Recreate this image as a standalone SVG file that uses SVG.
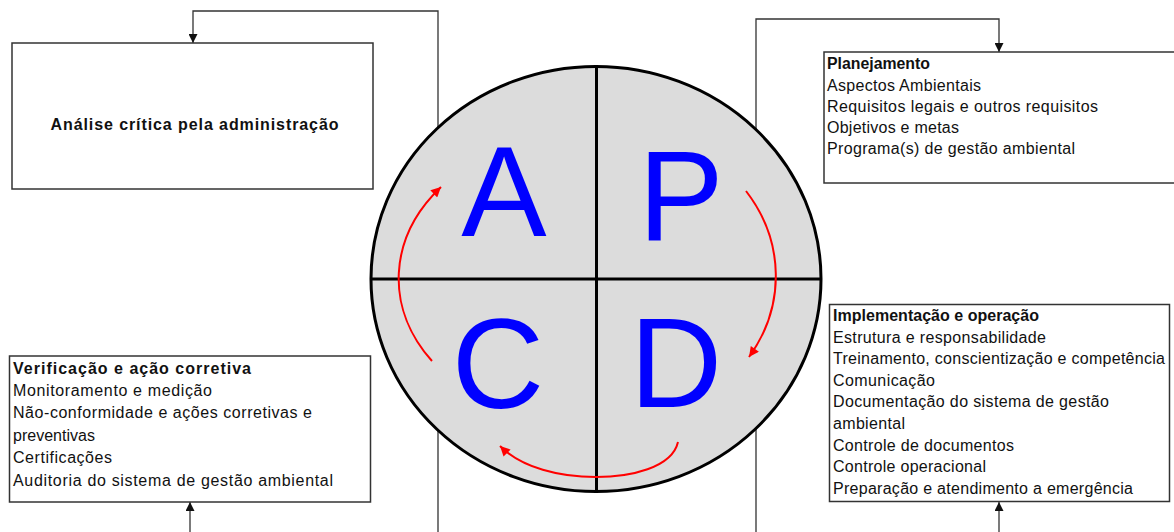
<svg xmlns="http://www.w3.org/2000/svg" width="1174" height="532" viewBox="0 0 1174 532">
  <style>
    .box { fill: #ffffff; stroke: #333333; stroke-width: 1.5; }
    .conn { fill: none; stroke: #333333; stroke-width: 1.3; }
    .cycle { fill: none; stroke: #ff0000; stroke-width: 2; }
    .t { font-family: "Liberation Sans", Arial, sans-serif; font-size: 16px; fill: #111111; }
    .b { font-weight: bold; }
    .big { font-family: "Liberation Sans", Arial, sans-serif; font-size: 128px; fill: #0000ff; text-anchor: middle; }
  </style>
  <defs>
    <marker id="arrow" viewBox="0 0 10 10" refX="10" refY="5" markerWidth="11" markerHeight="9" markerUnits="userSpaceOnUse" orient="auto">
      <path d="M0,0 L10,5 L0,10 Z" fill="#111111"/>
    </marker>
    <marker id="redArrow" viewBox="0 0 10 10" refX="10" refY="5" markerWidth="12" markerHeight="10" markerUnits="userSpaceOnUse" orient="auto">
      <path d="M0,0 L10,5 L0,10 Z" fill="#ff0000"/>
    </marker>
  </defs>

  <!-- feedback lines between the phases -->
  <g id="connectors">
    <path class="conn" d="M438,532 V11 H193 V43" marker-end="url(#arrow)"/>
    <path class="conn" d="M756,532 V19 H999 V52" marker-end="url(#arrow)"/>
    <path class="conn" d="M190,532 V502" marker-end="url(#arrow)"/>
    <path class="conn" d="M999,532 V502" marker-end="url(#arrow)"/>
  </g>

  <!-- PDCA wheel -->
  <g id="pdca">
    <ellipse cx="596" cy="279" rx="225" ry="212.5" fill="#dcdcdc" stroke="#000000" stroke-width="3"/>
    <line x1="596.5" y1="66" x2="596.5" y2="492" stroke="#000000" stroke-width="3"/>
    <line x1="371" y1="279" x2="821" y2="279" stroke="#000000" stroke-width="3"/>
    <text class="big" x="504" y="236">A</text>
    <text class="big" x="681" y="240">P</text>
    <text class="big" x="498" y="408">C</text>
    <text class="big" x="676" y="407">D</text>
    <path class="cycle" d="M746,191 A182,155 0 0 1 749,357" marker-end="url(#redArrow)"/>
    <path class="cycle" d="M678,442 C672,468 630,477 596,477 C560,477 522,468 500,446" marker-end="url(#redArrow)"/>
    <path class="cycle" d="M432,361 A197,148 0 0 1 441,187" marker-end="url(#redArrow)"/>
  </g>

  <g id="analise">
    <rect class="box" x="12" y="43" width="361" height="146"/>
    <text class="t b" x="50.5" y="129.5" font-size="17" textLength="288" lengthAdjust="spacing">Análise crítica pela administração</text>
  </g>

  <g id="planejamento">
    <rect class="box" x="824" y="52" width="360" height="131"/>
    <text class="t b" x="827" y="69" textLength="103" lengthAdjust="spacingAndGlyphs">Planejamento</text>
    <text class="t" x="827" y="90.5" textLength="154" lengthAdjust="spacing">Aspectos Ambientais</text>
    <text class="t" x="827" y="111.8" textLength="271" lengthAdjust="spacing">Requisitos legais e outros requisitos</text>
    <text class="t" x="827" y="133" textLength="132" lengthAdjust="spacing">Objetivos e metas</text>
    <text class="t" x="827" y="154.3" textLength="248" lengthAdjust="spacing">Programa(s) de gestão ambiental</text>
  </g>

  <g id="verificacao">
    <rect class="box" x="9.5" y="356" width="361" height="146"/>
    <text class="t b" x="13" y="373.5" textLength="238" lengthAdjust="spacing">Verificação e ação corretiva</text>
    <text class="t" x="13" y="395.5" textLength="199" lengthAdjust="spacing">Monitoramento e medição</text>
    <text class="t" x="13" y="418" textLength="299" lengthAdjust="spacing">Não-conformidade e ações corretivas e</text>
    <text class="t" x="13" y="440.5" textLength="82" lengthAdjust="spacing">preventivas</text>
    <text class="t" x="13" y="463" textLength="99" lengthAdjust="spacing">Certificações</text>
    <text class="t" x="13" y="486" textLength="320" lengthAdjust="spacing">Auditoria do sistema de gestão ambiental</text>
  </g>

  <g id="implementacao">
    <rect class="box" x="829.5" y="304.5" width="340" height="197"/>
    <text class="t b" x="833" y="321" textLength="206" lengthAdjust="spacing">Implementação e operação</text>
    <text class="t" x="833" y="342.6" textLength="213" lengthAdjust="spacing">Estrutura e responsabilidade</text>
    <text class="t" x="833" y="364.2" textLength="332" lengthAdjust="spacing">Treinamento, conscientização e competência</text>
    <text class="t" x="833" y="385.8" textLength="102" lengthAdjust="spacing">Comunicação</text>
    <text class="t" x="833" y="407.4" textLength="276" lengthAdjust="spacing">Documentação do sistema de gestão</text>
    <text class="t" x="833" y="429" textLength="72" lengthAdjust="spacing">ambiental</text>
    <text class="t" x="833" y="450.6" textLength="181" lengthAdjust="spacing">Controle de documentos</text>
    <text class="t" x="833" y="472.2" textLength="153" lengthAdjust="spacing">Controle operacional</text>
    <text class="t" x="833" y="493.8" textLength="300" lengthAdjust="spacing">Preparação e atendimento a emergência</text>
  </g>
</svg>
